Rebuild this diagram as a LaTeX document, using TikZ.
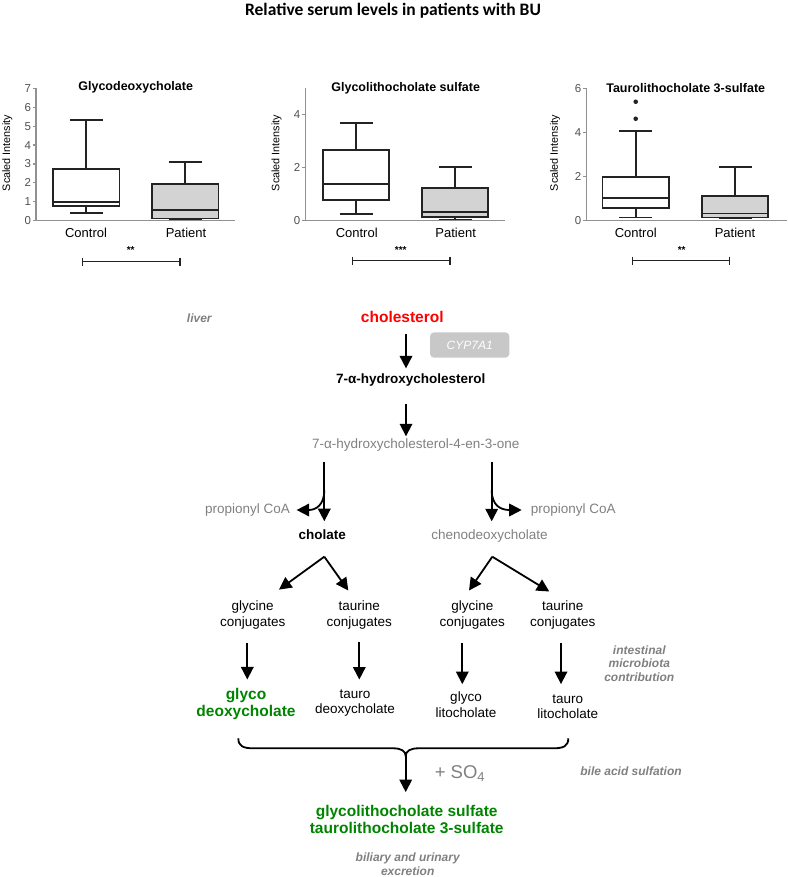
\documentclass[tikz,border=0pt]{standalone}
\usepackage{fontspec}
\setmainfont{Liberation Sans}
\newfontfamily\titlefont{Carlito}
\usetikzlibrary{arrows.meta}
\definecolor{lblgray}{RGB}{128,128,128}
\definecolor{txtgray}{RGB}{128,128,128}
\definecolor{grn}{RGB}{0,132,0}
\definecolor{boxfill}{RGB}{211,211,211}
\definecolor{axgray}{RGB}{145,145,145}
\definecolor{cypfill}{RGB}{200,200,200}
\definecolor{tickc}{RGB}{80,80,80}
\definecolor{bxc}{RGB}{35,35,35}
\newcommand\bxp[9]{%
  \draw[bxl] (#1,{#2-#4*#3}) -- (#1,{#2-#8*#3});
  \draw[bxl] ({#1-16.5},{#2-#4*#3}) -- ({#1+16.5},{#2-#4*#3});
  \draw[bxl] ({#1-16.5},{#2-#8*#3}) -- ({#1+16.5},{#2-#8*#3});
  \draw[bxl,fill=#9] ({#1-33.2},{#2-#5*#3}) rectangle ({#1+33.2},{#2-#7*#3});
  \draw[bxl] ({#1-33.2},{#2-#6*#3}) -- ({#1+33.2},{#2-#6*#3});
}
\tikzset{
  bxl/.style={line width=1.7pt, draw=bxc, line join=miter},
  axl/.style={line width=1.2pt, draw=axgray},
  ticklbl/.style={inner sep=0pt, anchor=east, text=tickc, font=\fontsize{11.5}{12}\selectfont},
  ptitle/.style={inner sep=0pt, font=\fontsize{12.5}{14}\selectfont\bfseries},
  grp/.style={inner sep=0pt, font=\fontsize{13}{14}\selectfont},
  ylab/.style={inner sep=0pt, rotate=90, font=\fontsize{10.8}{12}\selectfont},
  star/.style={inner sep=0pt, font=\fontsize{10}{11}\selectfont\bfseries},
  sigl/.style={line width=1.2pt, draw=bxc},
  lbl/.style={inner sep=0pt, align=center, text=lblgray, font=\fontsize{12}{13.5}\selectfont\bfseries\itshape},
  mtxt/.style={inner sep=0pt, align=center, font=\fontsize{13.5}{15.6}\selectfont},
  mbold/.style={mtxt, font=\fontsize{13.5}{15.6}\selectfont\bfseries},
  gtxt/.style={mtxt, text=txtgray},
  green/.style={inner sep=0pt, align=center, text=grn, font=\fontsize{15.5}{16.8}\selectfont\bfseries},
  arr/.style={line width=1.8pt, -{Triangle[length=12.5pt,width=12.5pt]}},
}
\begin{document}
\begin{tikzpicture}[x=1pt,y=-1pt]
\useasboundingbox (0,0) rectangle (787,877);
\node[inner sep=0pt, font=\titlefont\fontsize{17.5}{20}\selectfont\bfseries] (title) at (393,11) {Relative serum levels in patients with BU};

% ---------- plot 1
\draw[axl] (36,88.3) -- (36,220.7) -- (235,220.7);
\foreach \v in {0,...,7} {
  \draw[axl] (36,{220.7-\v*18.91}) -- (32.5,{220.7-\v*18.91});
  \node[ticklbl] at (31.3,{220.7-\v*18.91}) {\v};
}
\bxp{86.3}{220.7}{18.91}{0.42}{0.79}{0.99}{2.74}{5.33}{white}
\bxp{185.2}{220.7}{18.91}{0.10}{0.12}{0.57}{1.93}{3.12}{boxfill}
\node[ptitle] (t1) at (135.7,87.3) {Glycodeoxycholate};
\node[ylab] (y1) at (7.3,153) {Scaled Intensity};
\node[grp] (c1) at (86,233) {Control};
\node[grp] (p1) at (186,233) {Patient};
\node[star] (s1) at (130.7,250) {**};
\draw[sigl] (82.3,257.7) -- (82.3,265.7) (82.3,261.7) -- (180,261.7) (180,257.7) -- (180,265.7);

% ---------- plot 2
\draw[axl] (305.7,88) -- (305.7,220.7) -- (505,220.7);
\foreach \v in {0,2,4} {
  \draw[axl] (305.7,{220.7-\v*26.6}) -- (302.2,{220.7-\v*26.6});
  \node[ticklbl] at (300.5,{220.7-\v*26.6}) {\v};
}
\bxp{356}{220.7}{26.6}{0.25}{0.78}{1.37}{2.66}{3.66}{white}
\bxp{455}{220.7}{26.6}{0.04}{0.14}{0.33}{1.24}{2.03}{boxfill}
\node[ptitle] (t2) at (405.7,88.3) {Glycolithocholate sulfate};
\node[ylab] (y2) at (276.7,153) {Scaled Intensity};
\node[grp] (c2) at (356.7,233) {Control};
\node[grp] (p2) at (455.7,233) {Patient};
\node[star] (s2) at (400.7,250) {***};
\draw[sigl] (352.3,256.7) -- (352.3,264.7) (352.3,260.7) -- (450,260.7) (450,256.7) -- (450,264.7);

% ---------- plot 3
\draw[axl] (586.7,88.3) -- (586.7,220.7) -- (787,220.7);
\foreach \v in {0,2,4,6} {
  \draw[axl] (586.7,{220.7-\v*22.07}) -- (583.2,{220.7-\v*22.07});
  \node[ticklbl] at (581.5,{220.7-\v*22.07}) {\v};
}
\bxp{635.7}{220.7}{22.07}{0.14}{0.56}{1.04}{1.97}{4.08}{white}
\bxp{735}{220.7}{22.07}{0.10}{0.14}{0.33}{1.13}{2.42}{boxfill}
\fill[bxc] (635.7,{220.7-4.62*22.07}) circle (2.3);
\fill[bxc] (635.7,{220.7-5.39*22.07}) circle (2.3);
\node[ptitle] (t3) at (685.7,88.3) {Taurolithocholate 3-sulfate};
\node[ylab] (y3) at (555,153) {Scaled Intensity};
\node[grp] (c3) at (635.7,233) {Control};
\node[grp] (p3) at (735,233) {Patient};
\node[star] (s3) at (681.7,250) {**};
\draw[sigl] (632.7,256.7) -- (632.7,264.7) (632.7,260.7) -- (729.3,260.7) (729.3,256.7) -- (729.3,264.7);

% ---------- pathway
\coordinate (cA) at (406,0);
\coordinate (cL) at (324.3,0);
\coordinate (cR) at (491.7,0);
\node[lbl] (liver) at (199.3,318.3) {liver};
\node[inner sep=0pt, text=red, font=\fontsize{15.5}{17}\selectfont\bfseries] (chol) at (402.3,317) {cholesterol};
\node[draw=none, fill=cypfill, rounded corners=4pt, minimum width=79.3pt, minimum height=25.4pt, inner sep=0pt, text=white, font=\fontsize{12}{13}\selectfont\itshape] (cyp) at (469.7,345) {CYP7A1};
\node[mbold] (hyd) at (410.7,380.2) {7-α-hydroxycholesterol};
\node[gtxt] (hyd4) at (415.8,445.4) {7-α-hydroxycholesterol-4-en-3-one};
\node[gtxt] (propL) at (247.5,510) {propionyl CoA};
\node[mbold] (cholate) at (322.3,534.7) {cholate};
\node[gtxt] (cheno) at (489.5,535.8) {chenodeoxycholate};
\node[gtxt] (propR) at (573.3,510) {propionyl CoA};

\draw[arr, shorten <=11pt, shorten >=5.3pt] (chol.south -| cA) -- (hyd.north -| cA);
\draw[arr, shorten <=17.3pt, shorten >=2.6pt] (hyd.south -| cA) -- (hyd4.north -| cA);
\draw[arr, shorten <=10.2pt, shorten >=8.3pt] (hyd4.south -| cL) -- (cholate.north -| cL);
\draw[arr, shorten <=10.2pt, shorten >=8pt] (hyd4.south -| cR) -- (cheno.north -| cR);
\coordinate (sL) at (324.3,490);
\coordinate (sR) at (491.7,490);
\draw[arr, shorten >=6.5pt] (sL) .. controls (324.3,505) and (316,510) .. (propL.east);
\draw[arr, shorten >=9pt] (sR) .. controls (491.7,505) and (500,510) .. (propR.west);

% conjugates
\node[mtxt] (gcL) at (252.7,615) {glycine\\conjugates};
\node[mtxt] (tcL) at (359.3,615) {taurine\\conjugates};
\node[mtxt] (gcR) at (472.3,615) {glycine\\conjugates};
\node[mtxt] (tcR) at (562.7,615) {taurine\\conjugates};
\coordinate (aL) at (324.3,556.7);
\coordinate (aR) at (492.3,556.7);
\coordinate (tGL) at (279,589.6);
\coordinate (tTL) at (348.3,590.5);
\coordinate (tGR) at (469,590.5);
\coordinate (tTR) at (549.3,591.5);
\draw[arr] (aL) -- (tGL);
\draw[arr] (aL) -- (tTL);
\draw[arr] (aR) -- (tGR);
\draw[arr] (aR) -- (tTR);

\node[green] (gd) at (246,704.3) {glyco\\deoxycholate};
\node[mtxt] (td) at (355,703) {tauro\\deoxycholate};
\node[mtxt] (gl) at (466,704.5) {glyco\\litocholate};
\node[mtxt] (tl) at (567.7,706.5) {tauro\\litocholate};
\coordinate (v1) at (247.3,0);
\coordinate (v2) at (359.3,0);
\coordinate (v3) at (462.3,0);
\coordinate (v4) at (561,0);
\draw[arr, shorten <=14pt, shorten >=9pt] (gcL.south -| v1) -- (gd.north -| v1);
\draw[arr, shorten <=13pt, shorten >=9.7pt] (tcL.south -| v2) -- (td.north -| v2);
\draw[arr, shorten <=14pt, shorten >=7.4pt] (gcR.south -| v3) -- (gl.north -| v3);
\draw[arr, shorten <=14pt, shorten >=10pt] (tcR.south -| v4) -- (tl.north -| v4);
\node[lbl] (micro) at (639.3,663.7) {intestinal\\microbiota\\contribution};

% brace and sulfation
\draw[line width=1.8pt] (238.3,738.3) .. controls (238.3,746) and (243,748.3) .. (253.3,748.3) -- (393.3,748.3) .. controls (401,748.3) and (405.7,751) .. (405.7,756)
  .. controls (405.7,751) and (410.4,748.3) .. (418.3,748.3) -- (553.3,748.3) .. controls (563.6,748.3) and (568.3,746) .. (568.3,738.3);
\coordinate (bt) at (405.7,753);
\node[inner sep=0pt, text=txtgray, font=\fontsize{18.5}{20}\selectfont] (so4) at (460,773.3) {+ SO\textsubscript{4}};
\node[lbl] (sulf) at (631,771.7) {bile acid sulfation};
\node[green] (final) at (406.7,819.7) {glycolithocholate sulfate\\taurolithocholate 3-sulfate};
\draw[arr, shorten >=13.3pt] (bt) -- (final.north -| bt);
\node[lbl] (excr) at (407.7,864) {biliary and urinary\\excretion};
\end{tikzpicture}
\end{document}
